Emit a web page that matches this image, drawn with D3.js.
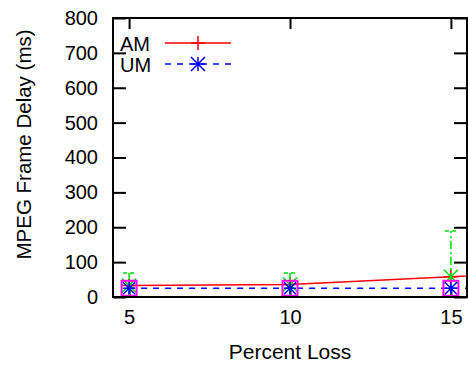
<!DOCTYPE html>
<html>
<head>
<meta charset="utf-8">
<script src="https://cdn.jsdelivr.net/npm/d3@7"></script>
<style>
  body { margin: 0; background: #fff; }
  text { font-family: "Liberation Sans", Arial, sans-serif; }
</style>
</head>
<body>
<div id="plot-area"></div>
<script>
// MPEG frame delay vs percent loss, AM and UM

const lossPct = [5, 10, 15, 20];
const amDelay = [33, 36, 58, 80];
const umDelay = [25, 25, 25, 25];
const amErrLo = [0, 0, 0];
const amErrHi = [69, 69, 189];
const xTicks = [5, 10, 15];
const yTicks = [0, 100, 200, 300, 400, 500, 600, 700, 800];

const svg = d3.select("#plot-area").
append("svg").
attr("width", 468).
attr("height", 366);

const w = 468, h = 366;
const p_t = 18, p_r = 1, p_b = 69, p_l = 113; // padding, clockwise from top

const xScale = d3.scaleLinear().
domain([4.5, 15.5]).
range([p_l, w - p_r]);

const yScale = d3.scaleLinear().
domain([0, 800]).
range([h - p_b, p_t]);

svg.append("clipPath").
attr("id", "plot-clip").
append("rect").
attr("x", p_l).
attr("y", p_t).
attr("width", w - p_l - p_r).
attr("height", h - p_t - p_b);

// Axes, ticks point inward
const styleAxis = g => {
  g.select(".domain").remove();
  g.selectAll(".tick line").attr("stroke", "#000").attr("stroke-width", 2);
  g.selectAll(".tick text").attr("font-size", 20).attr("fill", "#000").
  attr("font-family", "Liberation Sans, Arial, sans-serif");
};

svg.append("g").
attr("transform", `translate(${p_l} 0)`).
call(d3.axisLeft(yScale).tickValues(yTicks).tickSize(-13).tickPadding(15)).
call(styleAxis);

svg.append("g").
attr("transform", `translate(${w - p_r} 0)`).
call(d3.axisRight(yScale).tickValues(yTicks).tickSize(-13).tickFormat("")).
call(styleAxis);

svg.append("g").
attr("transform", `translate(0 ${h - p_b})`).
call(d3.axisBottom(xScale).tickValues(xTicks).tickSize(-11).tickPadding(13)).
call(styleAxis);

svg.append("g").
attr("transform", `translate(0 ${p_t})`).
call(d3.axisTop(xScale).tickValues(xTicks).tickSize(-11).tickFormat("")).
call(styleAxis);

// Axis labels
svg.append("text").
attr("transform", `translate(31 ${(p_t + h - p_b) / 2 - 13}) rotate(-90)`).
attr("text-anchor", "middle").
attr("font-size", 20.5).
text("MPEG Frame Delay (ms)");

svg.append("text").
attr("x", 290).
attr("y", 359).
attr("text-anchor", "middle").
attr("font-size", 21).
text("Percent Loss");

const plot = svg.append("g").attr("clip-path", "url(#plot-clip)");

// Lines
const amLine = d3.line().
x((d, i) => xScale(lossPct[i])).
y(d => yScale(d));

plot.append("path").
attr("d", amLine(amDelay)).
attr("fill", "none").
attr("stroke", "#ff0000").
attr("stroke-width", 1.5);

plot.append("path").
attr("d", amLine(umDelay)).
attr("fill", "none").
attr("stroke", "#0000ff").
attr("stroke-width", 1.5).
attr("stroke-dasharray", "6,6");

// Markers
const plusPath = (x, y, s) => `M${x - s},${y}L${x + s},${y}M${x},${y - s}L${x},${y + s}`;
const starPath = (x, y, s) => plusPath(x, y, s) +
`M${x - s},${y - s}L${x + s},${y + s}M${x - s},${y + s}L${x + s},${y - s}`;

amDelay.forEach((v, i) => {
  plot.append("path").
  attr("d", plusPath(xScale(lossPct[i]), yScale(v), 7)).
  attr("stroke", "#ff0000").
  attr("stroke-width", 1.5);
});

// AM error bars (green)
const errG = plot.append("g").
attr("stroke", "#00dd00").
attr("stroke-width", 1.5).
attr("fill", "none");

amErrHi.forEach((hi, i) => {
  const x = xScale(lossPct[i]);
  errG.append("line").
  attr("x1", x).attr("x2", x).
  attr("y1", yScale(amErrLo[i])).attr("y2", yScale(hi)).
  attr("stroke-dasharray", "8,3,2,3");
  errG.append("line").
  attr("x1", x - 6).attr("x2", x + 6).
  attr("y1", yScale(hi)).attr("y2", yScale(hi)).
  attr("stroke-dasharray", "4,3");
  const y = yScale(amDelay[i]);
  errG.append("path").
  attr("d", `M${x - 7},${y - 7}L${x + 7},${y + 7}M${x - 7},${y + 7}L${x + 7},${y - 7}`);
});

// UM boxes (magenta)
umDelay.slice(0, 3).forEach((v, i) => {
  plot.append("rect").
  attr("x", xScale(lossPct[i]) - 7.5).
  attr("y", yScale(v) - 7.5).
  attr("width", 15).
  attr("height", 15).
  attr("fill", "none").
  attr("stroke", "#ff00ff").
  attr("stroke-width", 2);
});

umDelay.forEach((v, i) => {
  plot.append("path").
  attr("d", starPath(xScale(lossPct[i]), yScale(v), 6)).
  attr("stroke", "#0000ff").
  attr("stroke-width", 1.5);
});

// Frame
svg.append("rect").
attr("x", p_l).
attr("y", p_t).
attr("width", w - p_l - p_r).
attr("height", h - p_t - p_b).
attr("fill", "none").
attr("stroke", "#000").
attr("stroke-width", 2);

// Legend
const legend = [
{ name: "AM", color: "#ff0000", dash: null, y: 44, mark: plusPath },
{ name: "UM", color: "#0000ff", dash: "6,6", y: 65, mark: starPath }];

legend.forEach(l => {
  svg.append("text").
  attr("x", 120).
  attr("y", l.y + 7).
  attr("font-size", 20).
  text(l.name);
  svg.append("line").
  attr("x1", 165).attr("x2", 231).
  attr("y1", l.y - 1).attr("y2", l.y - 1).
  attr("stroke", l.color).
  attr("stroke-width", 1.5).
  attr("stroke-dasharray", l.dash);
  svg.append("path").
  attr("d", l.mark(198, l.y - 1, 7)).
  attr("stroke", l.color).
  attr("stroke-width", 1.5);
});
</script>
</body>
</html>
